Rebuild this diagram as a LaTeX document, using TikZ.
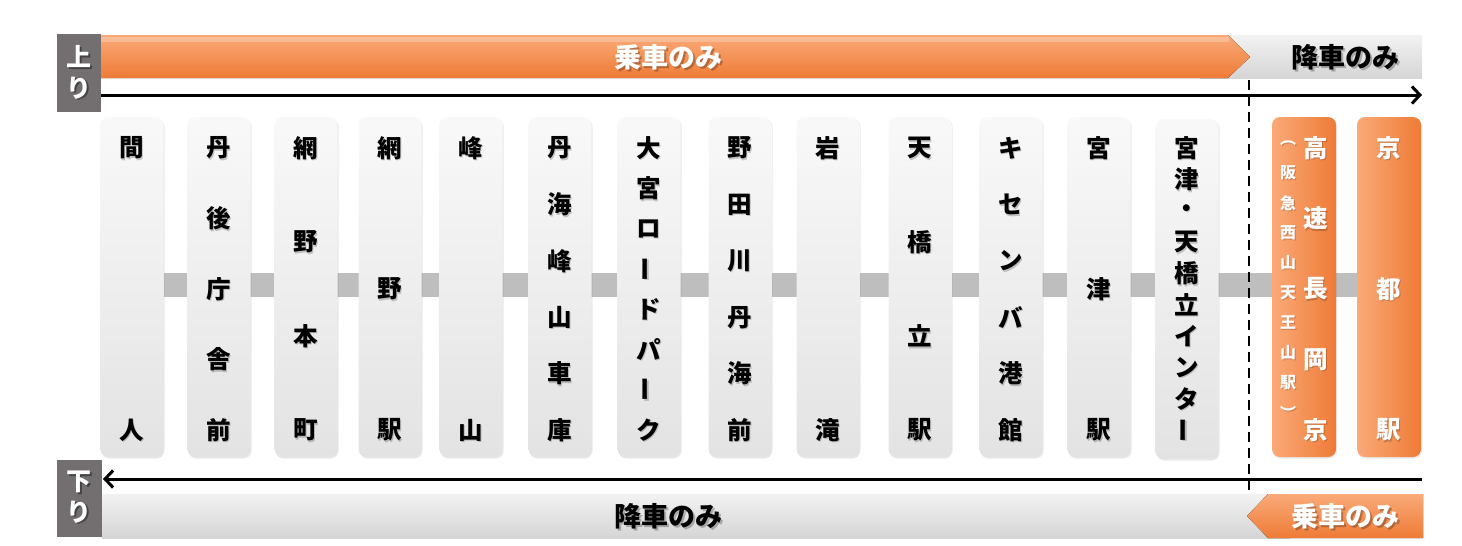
\documentclass[tikz,border=0pt]{standalone}
\usepackage{fontspec}
\setmainfont{Noto Sans CJK JP}
\usetikzlibrary{arrows.meta,backgrounds,shadows}
\definecolor{orL}{HTML}{FAAA78}
\definecolor{orD}{HTML}{EE7B36}
\definecolor{labg}{HTML}{736F70}
\definecolor{conn}{HTML}{BEBEBE}
\newcommand\vbar{\rotatebox[origin=c]{90}{ー}}
% #1 name prefix, #2 x, #3 count, #4 list, #5 text style
\newcommand\stcol[5]{%
  \foreach \ch [count=\i] in {#4} {%
    \pgfmathsetmacro\yy{148+(\i-1)*282/(#3-1)}%
    \node[#5, text=black, opacity=.2] at (#2+1.2,\yy+1.5) {\ch};
    \node[#5] (#1-\i) at (#2,\yy) {\ch};
  }%
}
\begin{document}
\begin{tikzpicture}[x=1pt,y=-1pt,
  graybox/.style={rounded corners=8pt, top color=gray!5, bottom color=gray!22,
    minimum width=63pt, minimum height=340pt, inner sep=0pt,
    drop shadow={shadow xshift=1pt, shadow yshift=-1.5pt, opacity=.18}},
  orbox/.style={rounded corners=8pt, left color=orL, right color=orD,
    minimum width=64pt, minimum height=340pt, inner sep=0pt,
    drop shadow={shadow xshift=1pt, shadow yshift=-1.5pt, opacity=.18}},
  stxt/.style={font=\fontsize{24.5}{24.5}\selectfont\bfseries, inner sep=0pt, text=black},
  wtxt/.style={font=\fontsize{24.5}{24.5}\selectfont\bfseries, inner sep=0pt, text=white},
  smtxt/.style={font=\fontsize{16}{16}\selectfont\bfseries, inner sep=0pt, text=white},
  bartxt/.style={font=\fontsize{27}{27}\selectfont\bfseries, inner sep=0pt},
  labtxt/.style={font=\fontsize{25}{25}\selectfont\bfseries, inner sep=0pt},
  arrowline/.style={line width=3pt, -{Straight Barb[length=8pt,width=17pt,line width=3pt]}},
]
\useasboundingbox (0,0) rectangle (1462,546);

% top bars
\fill[top color=gray!10, bottom color=gray!33] (1200,35) rectangle (1422,78);
\fill[top color=orL, bottom color=orD] (101,35) -- (1228,35) -- (1250,57) -- (1228,78) -- (101,78) -- cycle;
\fill[white, opacity=.25] (101,37) rectangle (1229,42);
% bottom bars
\fill[top color=gray!10, bottom color=gray!33] (102,494) rectangle (1290,538);
\fill[top color=orL, bottom color=orD] (1247,516) -- (1268,494) -- (1423,494) -- (1423,538) -- (1268,538) -- cycle;

% direction labels
\fill[labg] (57,34) rectangle (101,112);
\fill[labg] (57,460) rectangle (102,537);
\node[labtxt, text=black, opacity=.4] at (80.5,58.5) {上};
\node[labtxt, text=white] (up1) at (79,57) {上};
\node[labtxt, text=black, opacity=.4] at (80.5,89.5) {り};
\node[labtxt, text=white] (up2) at (79,88) {り};
\node[labtxt, text=black, opacity=.4] at (80.5,483.5) {下};
\node[labtxt, text=white] (dn1) at (79,482) {下};
\node[labtxt, text=black, opacity=.4] at (80.5,513.5) {り};
\node[labtxt, text=white] (dn2) at (79,512) {り};

% bar texts
\node[bartxt, text=black, opacity=.25] at (670,59) {乗車のみ};
\node[bartxt, text=white] (t1) at (668,57) {乗車のみ};
\node[bartxt, text=black, opacity=.25] at (1347,59) {降車のみ};
\node[bartxt, text=black] (t2) at (1345,57) {降車のみ};
\node[bartxt, text=black, opacity=.25] at (670,518) {降車のみ};
\node[bartxt, text=black] (t3) at (668,516) {降車のみ};
\node[bartxt, text=black, opacity=.25] at (1347,518) {乗車のみ};
\node[bartxt, text=white] (t4) at (1345,516) {乗車のみ};

% arrows
\coordinate (a1s) at (101,95);
\coordinate (a1e) at (1422,95);
\coordinate (a2s) at (1422,479);
\coordinate (a2e) at (103,479);
\draw[arrowline] (a1s) -- (a1e);
\draw[arrowline] (a2s) -- (a2e);

% dashed boundary
\coordinate (d1) at (1249,80);
\coordinate (d2) at (1249,495);
\draw[line width=2.5pt, dash pattern=on 10pt off 6pt] (d1) -- (d2);

% station boxes
\node[graybox] (b1) at (132,287) {};
\node[graybox] (b2) at (219,287) {};
\node[graybox] (b3) at (306,287) {};
\node[graybox] (b4) at (390,287) {};
\node[graybox] (b5) at (471,287) {};
\node[graybox] (b6) at (560,287) {};
\node[graybox] (b7) at (649,287) {};
\node[graybox] (b8) at (740,287) {};
\node[graybox] (b9) at (828,287) {};
\node[graybox] (b10) at (920,287) {};
\node[graybox] (b11) at (1011,287) {};
\node[graybox] (b12) at (1099,287) {};
\node[graybox] (b13) at (1187,289) {};
\node[orbox] (b14) at (1304,287) {};
\node[orbox] (b15) at (1389,287) {};

\begin{scope}[on background layer]
\fill[conn] ([yshift=14pt]b1.east) rectangle ([yshift=-10pt]b15.west);
\end{scope}

% station names
\stcol{s1}{132}{2}{間,人}{stxt}
\stcol{s2}{219}{5}{丹,後,庁,舎,前}{stxt}
\stcol{s3}{306}{4}{網,野,本,町}{stxt}
\stcol{s4}{390}{3}{網,野,駅}{stxt}
\stcol{s5}{471}{2}{峰,山}{stxt}
\stcol{s6}{560}{6}{丹,海,峰,山,車,庫}{stxt}
\stcol{s7}{649}{8}{大,宮,ロ,\vbar,ド,パ,\vbar,ク}{stxt}
\stcol{s8}{740}{6}{野,田,川,丹,海,前}{stxt}
\stcol{s9}{828}{2}{岩,滝}{stxt}
\stcol{s10}{920}{4}{天,橋,立,駅}{stxt}
\stcol{s11}{1011}{6}{キ,セ,ン,バ,港,館}{stxt}
\stcol{s12}{1099}{3}{宮,津,駅}{stxt}
\stcol{s13}{1187}{10}{宮,津,・,天,橋,立,イ,ン,タ,\vbar}{stxt}
\stcol{s14}{1316}{5}{高,速,長,岡,京}{wtxt}
\stcol{s15}{1389}{3}{京,都,駅}{wtxt}
% small column 阪急西山天王山駅
\foreach \ch [count=\i] in {︵,阪,急,西,山,天,王,山,駅,︶} {
  \pgfmathsetmacro\yy{143+(\i-1)*30}
  \node[smtxt, text=black, opacity=.2] at (1289,\yy+1) {\ch};
  \node[smtxt] (h\i) at (1288,\yy) {\ch};
}
\end{tikzpicture}
\end{document}
